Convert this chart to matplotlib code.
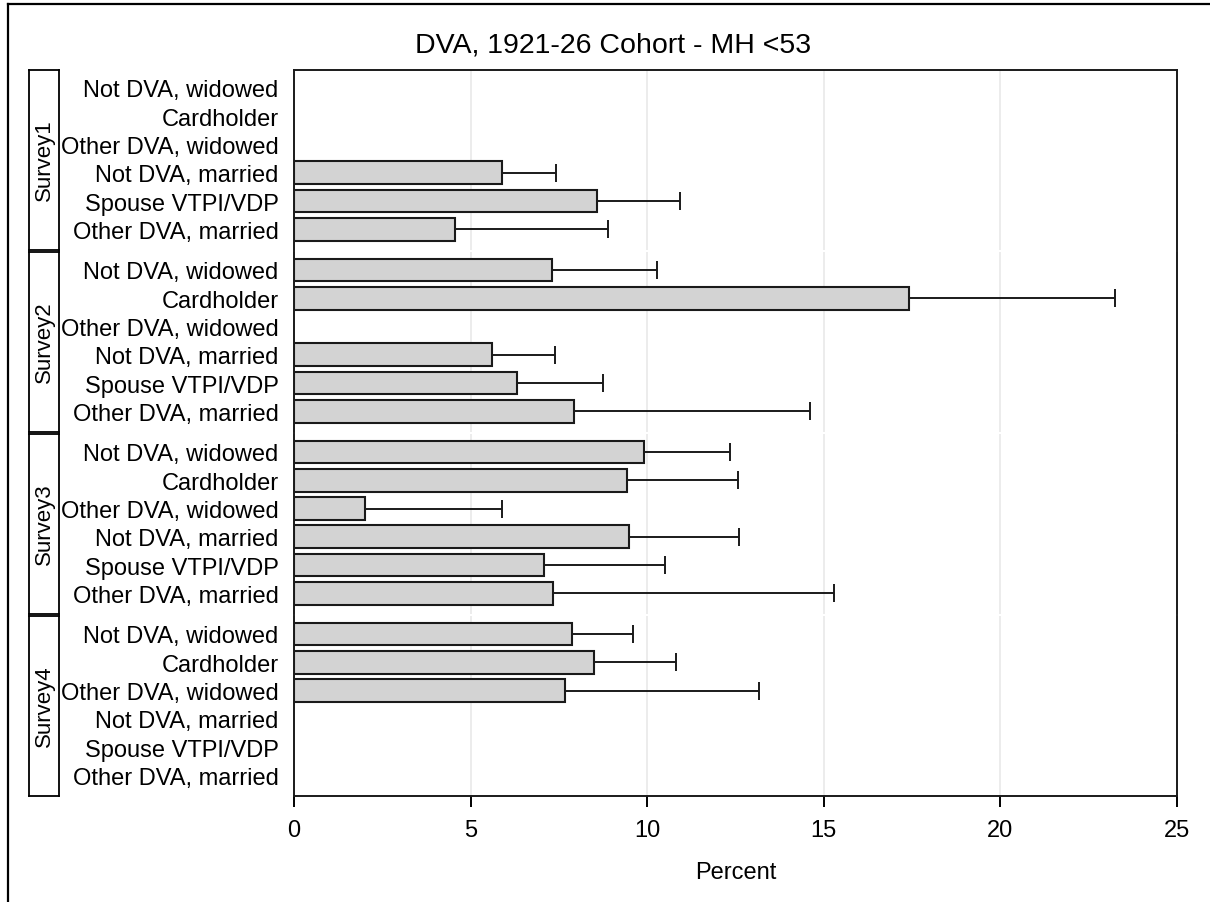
import numpy as np
import matplotlib
matplotlib.use('Agg')
import matplotlib.pyplot as plt
from matplotlib.lines import Line2D

plt.rcParams['font.family'] = ['Liberation Sans', 'DejaVu Sans']

# Dados (NaN = sem barra)
categorias = ['Not DVA, widowed', 'Cardholder', 'Other DVA, widowed',
              'Not DVA, married', 'Spouse VTPI/VDP', 'Other DVA, married']
surveys = ['Survey1', 'Survey2', 'Survey3', 'Survey4']

pct_s1 = [np.nan, np.nan, np.nan, 5.88, 8.57, 4.56]
sup_s1 = [np.nan, np.nan, np.nan, 7.42, 10.93, 8.88]
pct_s2 = [7.30, 17.40, np.nan, 5.61, 6.31, 7.93]
sup_s2 = [10.29, 23.25, np.nan, 7.39, 8.74, 14.61]
pct_s3 = [9.90, 9.42, 2.01, 9.49, 7.08, 7.33]
sup_s3 = [12.35, 12.57, 5.88, 12.61, 10.51, 15.28]
pct_s4 = [7.88, 8.50, 7.68, np.nan, np.nan, np.nan]
sup_s4 = [9.61, 10.82, 13.16, np.nan, np.nan, np.nan]

valores = [pct_s1, pct_s2, pct_s3, pct_s4]
superiores = [sup_s1, sup_s2, sup_s3, sup_s4]

W, H = 1210, 903
fig = plt.figure(figsize=(W / 100, H / 100), dpi=100)

left, right = 294 / W, 1177 / W
top_px, bot_px = 70.5, 796.5
gap = 2.0
panel_h = (bot_px - top_px - 3 * gap) / 4

ypos = np.arange(len(categorias))

for i in range(4):
    y0 = top_px + i * (panel_h + gap)
    ax = fig.add_axes([left, 1 - (y0 + panel_h) / H, right - left, panel_h / H])
    v = np.array(valores[i], dtype=float)
    s = np.array(superiores[i], dtype=float)
    ok = ~np.isnan(v)

    ax.barh(ypos[ok], v[ok], height=0.8, color='#d3d3d3', edgecolor='#1a1a1a',
            linewidth=1.5, zorder=2)
    ax.errorbar(v[ok], ypos[ok], xerr=[np.zeros(ok.sum()), s[ok] - v[ok]],
                fmt='none', ecolor='#1a1a1a', elinewidth=1.4, capsize=6.8,
                capthick=1.4, zorder=3)

    ax.set_xlim(0, 25)
    ax.set_ylim(5.71, -0.65)
    ax.set_yticks(ypos)
    ax.set_yticklabels(categorias, fontsize=17)
    ax.tick_params(axis='y', length=0, pad=11)
    ax.set_xticks([0, 5, 10, 15, 20, 25])
    for xv in [5, 10, 15, 20]:
        ax.axvline(xv, color='#ebebeb', linewidth=1.3, zorder=0)

    for sp in ax.spines.values():
        sp.set_linewidth(1.4)
        sp.set_color('#1a1a1a')
    if i > 0:
        ax.spines['top'].set_visible(False)
    if i < 3:
        ax.spines['bottom'].set_visible(False)
        ax.tick_params(axis='x', length=0, labelbottom=False)
    else:
        ax.tick_params(axis='x', length=8, width=1.4, pad=9, labelsize=17)
        ax.set_xlabel('Percent', fontsize=17, labelpad=14)

    # faixa lateral com o nome do survey
    sx = fig.add_axes([29 / W, 1 - (y0 + panel_h) / H, 30 / W, panel_h / H])
    sx.set_xticks([])
    sx.set_yticks([])
    for sp in sx.spines.values():
        sp.set_linewidth(1.3)
    sx.text(0.5, 0.5, surveys[i], rotation=90, ha='center', va='center',
            fontsize=16, transform=sx.transAxes)

fig.text(0.507, 1 - 45 / H, 'DVA, 1921-26 Cohort - MH <53', ha='center',
         va='center', fontsize=20.5)

# moldura (apenas topo e esquerda visíveis na imagem)
fig.add_artist(Line2D([8 / W, 1], [1 - 5 / H, 1 - 5 / H], color='black', linewidth=1.6,
                      transform=fig.transFigure))
fig.add_artist(Line2D([8 / W, 8 / W], [0, 1 - 5 / H], color='black', linewidth=1.6,
                      transform=fig.transFigure))

fig.savefig('out.png', dpi=100)
